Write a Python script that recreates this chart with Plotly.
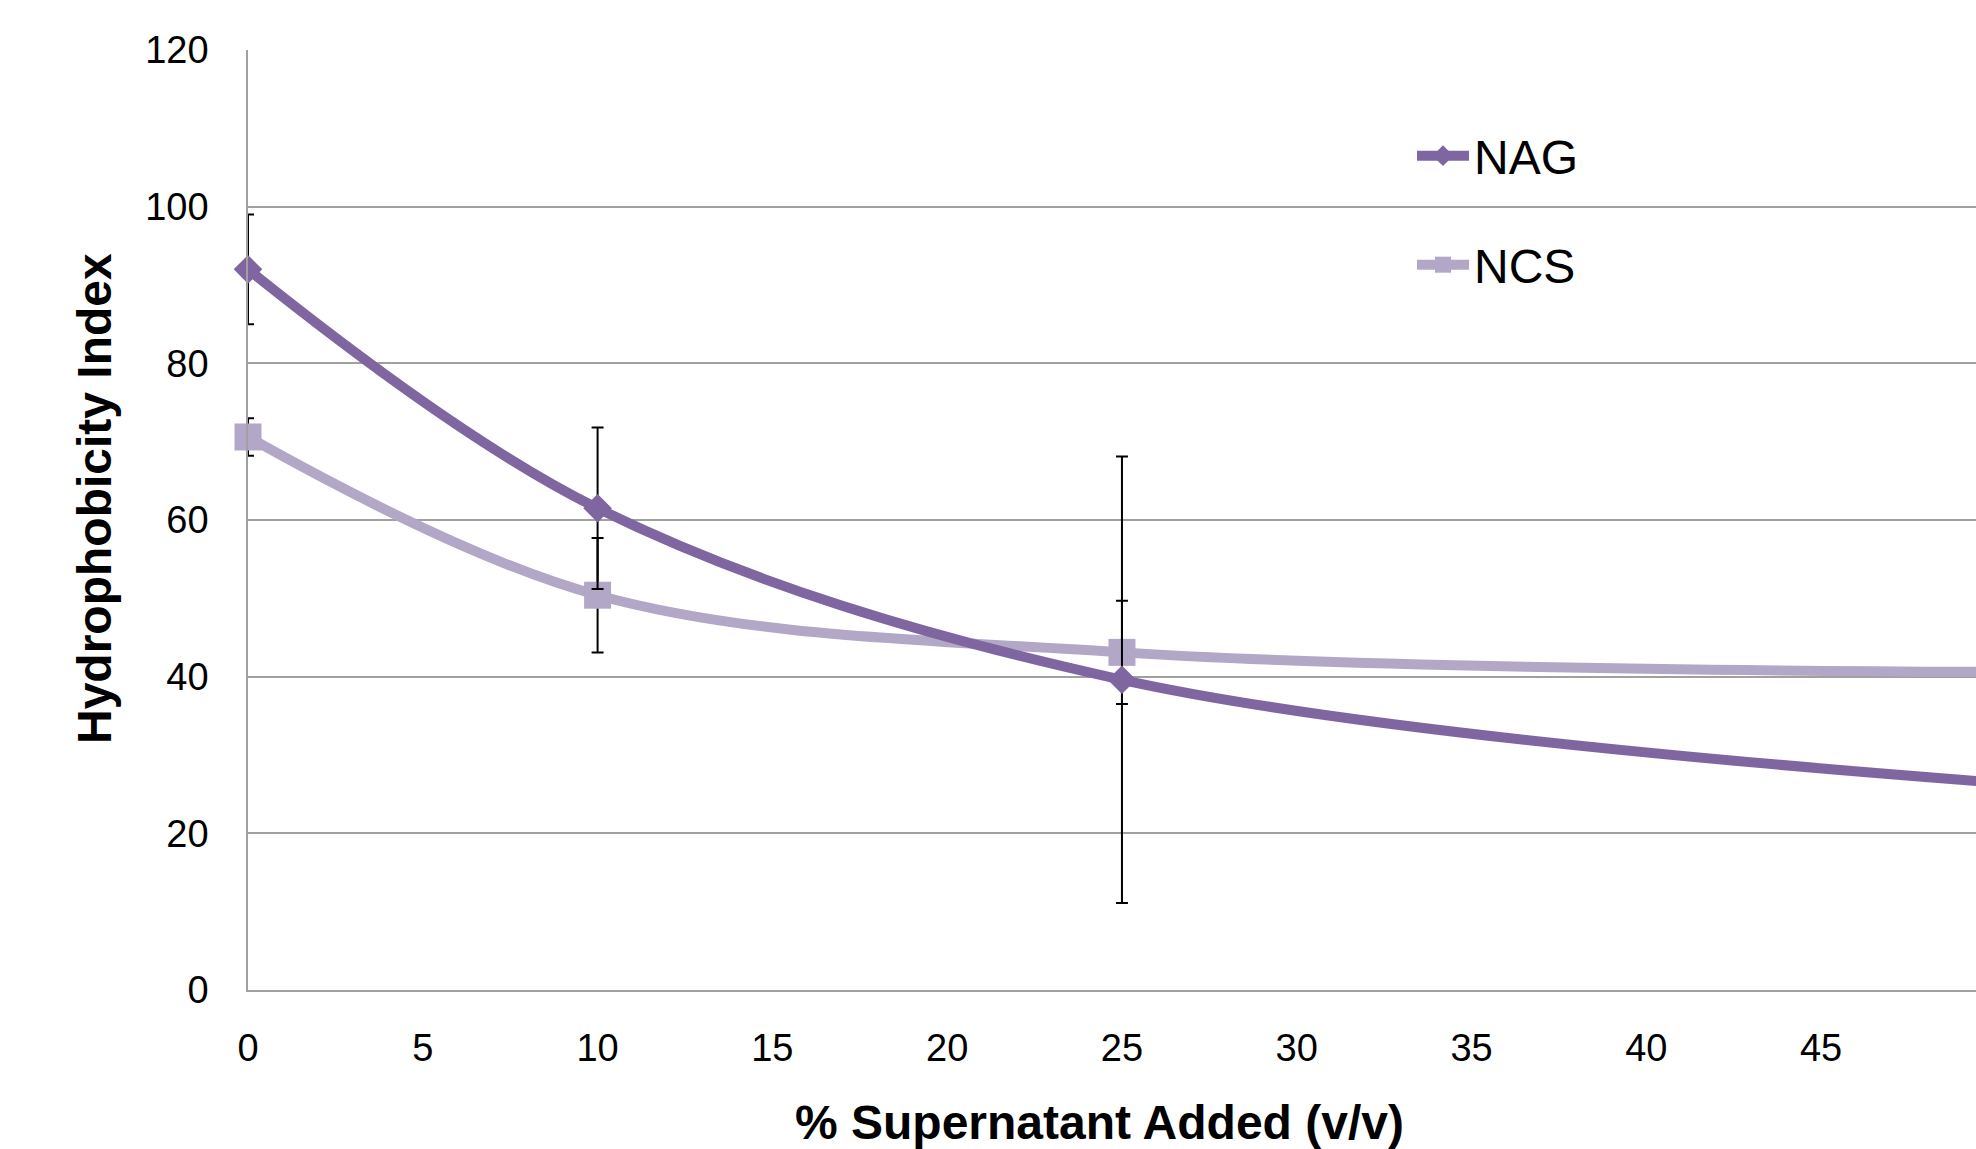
import plotly.graph_objects as go

# Data
supernatant_pct = [0, 10, 25, 50]
nag_values = [92.0, 61.5, 39.6, 26.5]
nag_errors = [7.0, 10.3, 28.5, 0]
ncs_values = [70.6, 50.4, 43.1, 40.6]
ncs_errors = [2.4, 7.3, 6.6, 0]

y_ticks = [0, 20, 40, 60, 80, 100, 120]
x_ticks = [0, 5, 10, 15, 20, 25, 30, 35, 40, 45]

NAG_COLOR = "#8066A0"
NCS_COLOR = "#B3A7C8"
GRID = "#A0A0A0"

W, H = 1976, 1149
L, R, T, B = 248, 0, 50, 159

fig = go.Figure()

fig.add_trace(go.Scatter(
    x=supernatant_pct, y=ncs_values, name="NCS", mode="lines+markers",
    line=dict(color=NCS_COLOR, width=10, shape="spline", smoothing=1.0),
    marker=dict(symbol="square", size=27, color=NCS_COLOR),
    error_y=dict(type="data", array=ncs_errors, symmetric=True,
                 color="black", thickness=2, width=6),
    cliponaxis=False,
    legend="legend2",
))
fig.add_trace(go.Scatter(
    x=supernatant_pct, y=nag_values, name="NAG", mode="lines+markers",
    line=dict(color=NAG_COLOR, width=10, shape="spline", smoothing=1.0),
    marker=dict(symbol="diamond", size=22, color=NAG_COLOR),
    error_y=dict(type="data", array=nag_errors, symmetric=True,
                 color="black", thickness=2, width=6),
    cliponaxis=False,
    legend="legend",
))

plot_w = W - L - R
plot_h = H - T - B

def px_x(p):
    return (p - L) / plot_w

def px_y(p):
    return (H - B - p) / plot_h

tick_font = dict(family="Liberation Sans Narrow, Liberation Sans, Arial", size=38, color="black")
legend_font = dict(family="Liberation Sans, Arial", size=48, color="black")

fig.update_layout(
    width=W, height=H,
    margin=dict(l=L, r=R, t=T, b=B, pad=0),
    paper_bgcolor="white", plot_bgcolor="white",
    xaxis=dict(
        range=[0, 49.43], tickvals=x_ticks, ticktext=[str(v) for v in x_ticks],
        showgrid=False, zeroline=False, showline=True, linecolor=GRID, linewidth=1.5,
        ticks="", tickfont=tick_font, ticklabelstandoff=24,
    ),
    yaxis=dict(
        range=[0, 120], tickvals=y_ticks, ticktext=[str(v) for v in y_ticks],
        showgrid=True, gridcolor=GRID, gridwidth=1.5,
        zeroline=False, showline=True, linecolor=GRID, linewidth=1.5,
        ticks="", tickfont=tick_font, ticklabelstandoff=30,
    ),
    legend=dict(
        x=px_x(1412), y=px_y(156), xanchor="left", yanchor="middle",
        font=legend_font, bgcolor="rgba(0,0,0,0)", itemwidth=52,
    ),
    legend2=dict(
        x=px_x(1412), y=px_y(265), xanchor="left", yanchor="middle",
        font=legend_font, bgcolor="rgba(0,0,0,0)", itemwidth=52,
    ),
    showlegend=True,
    annotations=[
        dict(text="<b>Hydrophobicity Index</b>", xref="paper", yref="paper",
             x=px_x(94), y=px_y(499), xanchor="center", yanchor="middle",
             textangle=-90, showarrow=False,
             font=dict(family="Liberation Sans, Arial", size=48, color="black")),
        dict(text="<b>% Supernatant Added (v/v)</b>", xref="paper", yref="paper",
             x=px_x(1099), y=px_y(1122), xanchor="center", yanchor="middle",
             showarrow=False,
             font=dict(family="Liberation Sans, Arial", size=48, color="black")),
    ],
)

fig.write_html("out.html")
